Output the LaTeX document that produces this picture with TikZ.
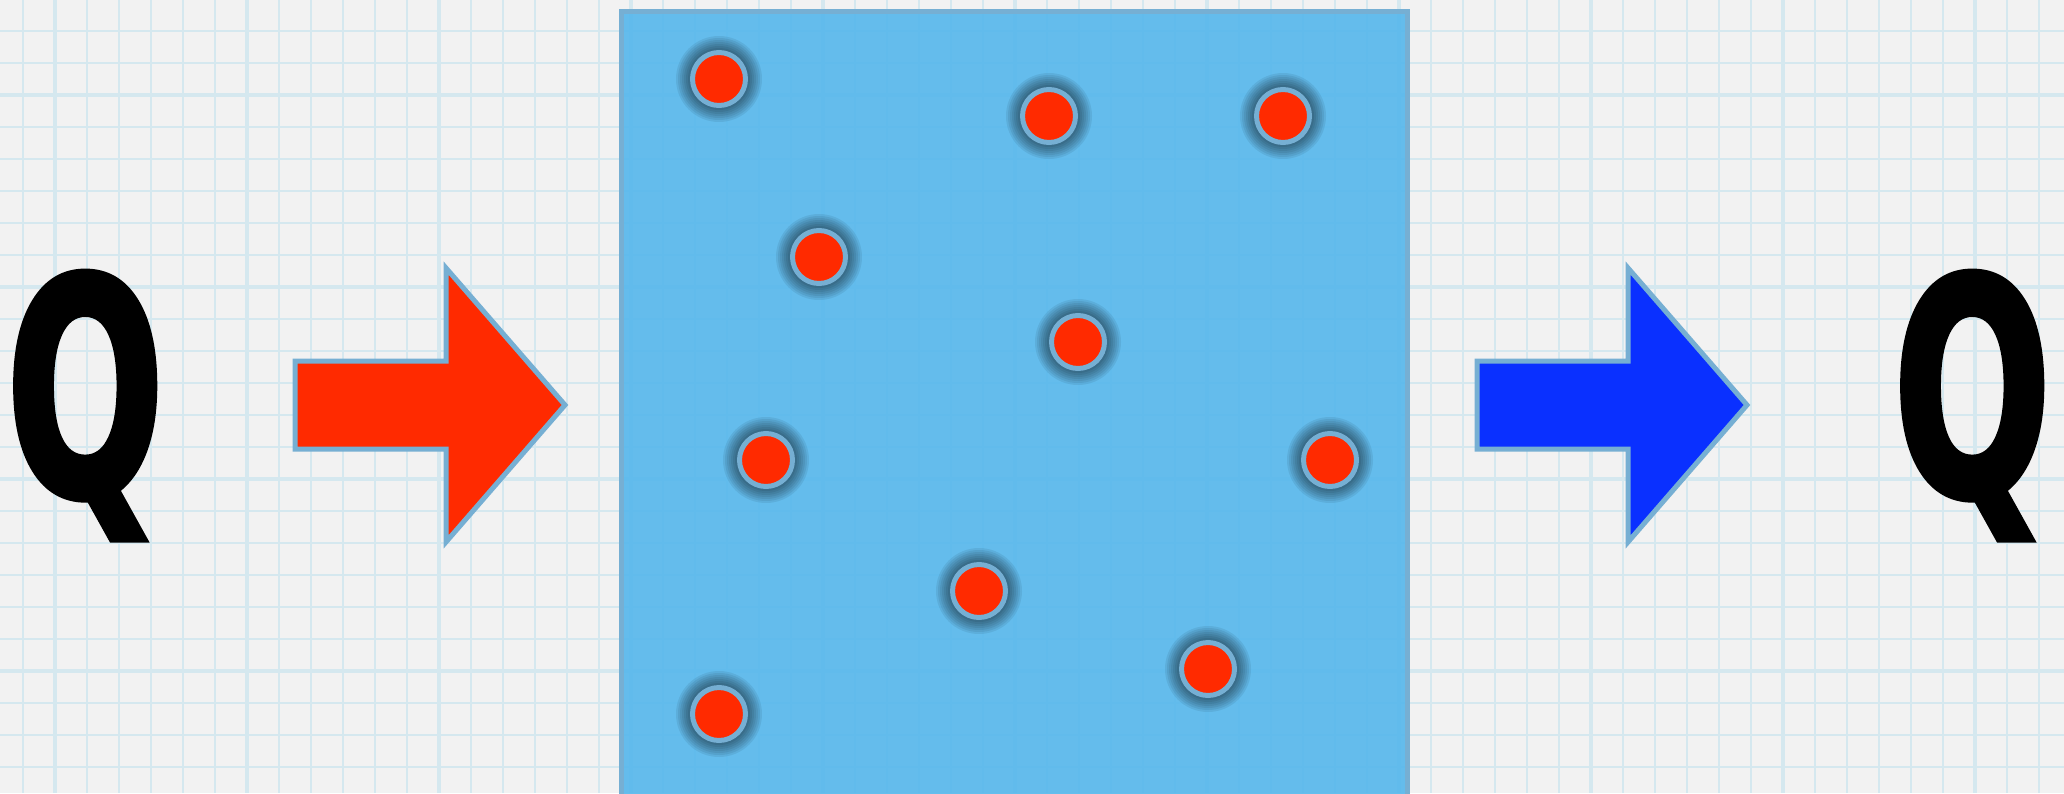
\documentclass[tikz,border=0pt]{standalone}
\usepackage{fontspec}
\newfontfamily\qfont[FakeBold=2.5]{DejaVu Sans Bold}
\definecolor{bg}{HTML}{F2F2F2}
\definecolor{gridc}{HTML}{D5E8EF}
\definecolor{boxfill}{HTML}{58B8EC}
\definecolor{edgec}{HTML}{76AFD3}
\definecolor{dotred}{HTML}{FF2A00}
\definecolor{arrblue}{HTML}{0A30FF}
\tikzset{
  gridline/.style={draw=gridc, line width=2.2},
  gridthick/.style={draw=gridc, line width=3.5},
  vessel/.style={fill=boxfill, fill opacity=0.92, draw=edgec, line width=5},
  particle/.style={circle, fill=dotred, draw=edgec, line width=5, minimum size=53, inner sep=0},
  flowarrow/.style={draw=edgec, line width=5, line join=miter},
  heatlabel/.style={inner sep=0, anchor=base west, font=\qfont\fontsize{300}{300}\selectfont}
}
\begin{document}
\begin{tikzpicture}[x=1pt,y=-1pt]
\useasboundingbox (0,0) rectangle (2064,793);
\clip (0,0) rectangle (2064,793);
\fill[bg] (0,0) rectangle (2064,793);
% graph paper
\foreach \k in {0,...,63}{
  \pgfmathtruncatemacro{\m}{mod(\k,6)}
  \ifnum\m=1 \draw[gridthick] (23+32*\k,0) -- (23+32*\k,793);
  \else \draw[gridline] (23+32*\k,0) -- (23+32*\k,793); \fi
}
\foreach \k in {0,...,24}{
  \pgfmathtruncatemacro{\m}{mod(\k,6)}
  \ifnum\m=2 \draw[gridthick] (0,31+32*\k) -- (2064,31+32*\k);
  \else \draw[gridline] (0,31+32*\k) -- (2064,31+32*\k); \fi
}
% vessel
\path[vessel] (621,11) rectangle (1407,810);
% particles
\foreach \n/\x/\y in {1/719/79, 2/1049/116, 3/1283/116, 4/819/257, 5/1078/342, 6/766/460, 7/1330/460, 8/979/591, 9/1208/669, 10/719/714}{
  \foreach \r in {43,41,...,29}{
    \fill[black, opacity=0.07] (\x,\y) circle (\r);
  }
  \node[particle] (p\n) at (\x,\y) {};
}
% arrows
\draw[flowarrow, fill=dotred] (295,361) -- (446,361) -- (446,268) -- (565,405) -- (446,542) -- (446,449) -- (295,449) -- cycle;
\draw[flowarrow, fill=arrblue] (1477,361) -- (1628,361) -- (1628,268) -- (1747,405) -- (1628,542) -- (1628,449) -- (1477,449) -- cycle;
% labels
\node[heatlabel] (qin) at (6,495) {\scalebox{0.62}[1]{Q}};
\node[heatlabel] (qout) at (1893,495) {\scalebox{0.62}[1]{Q}};
\end{tikzpicture}
\end{document}
